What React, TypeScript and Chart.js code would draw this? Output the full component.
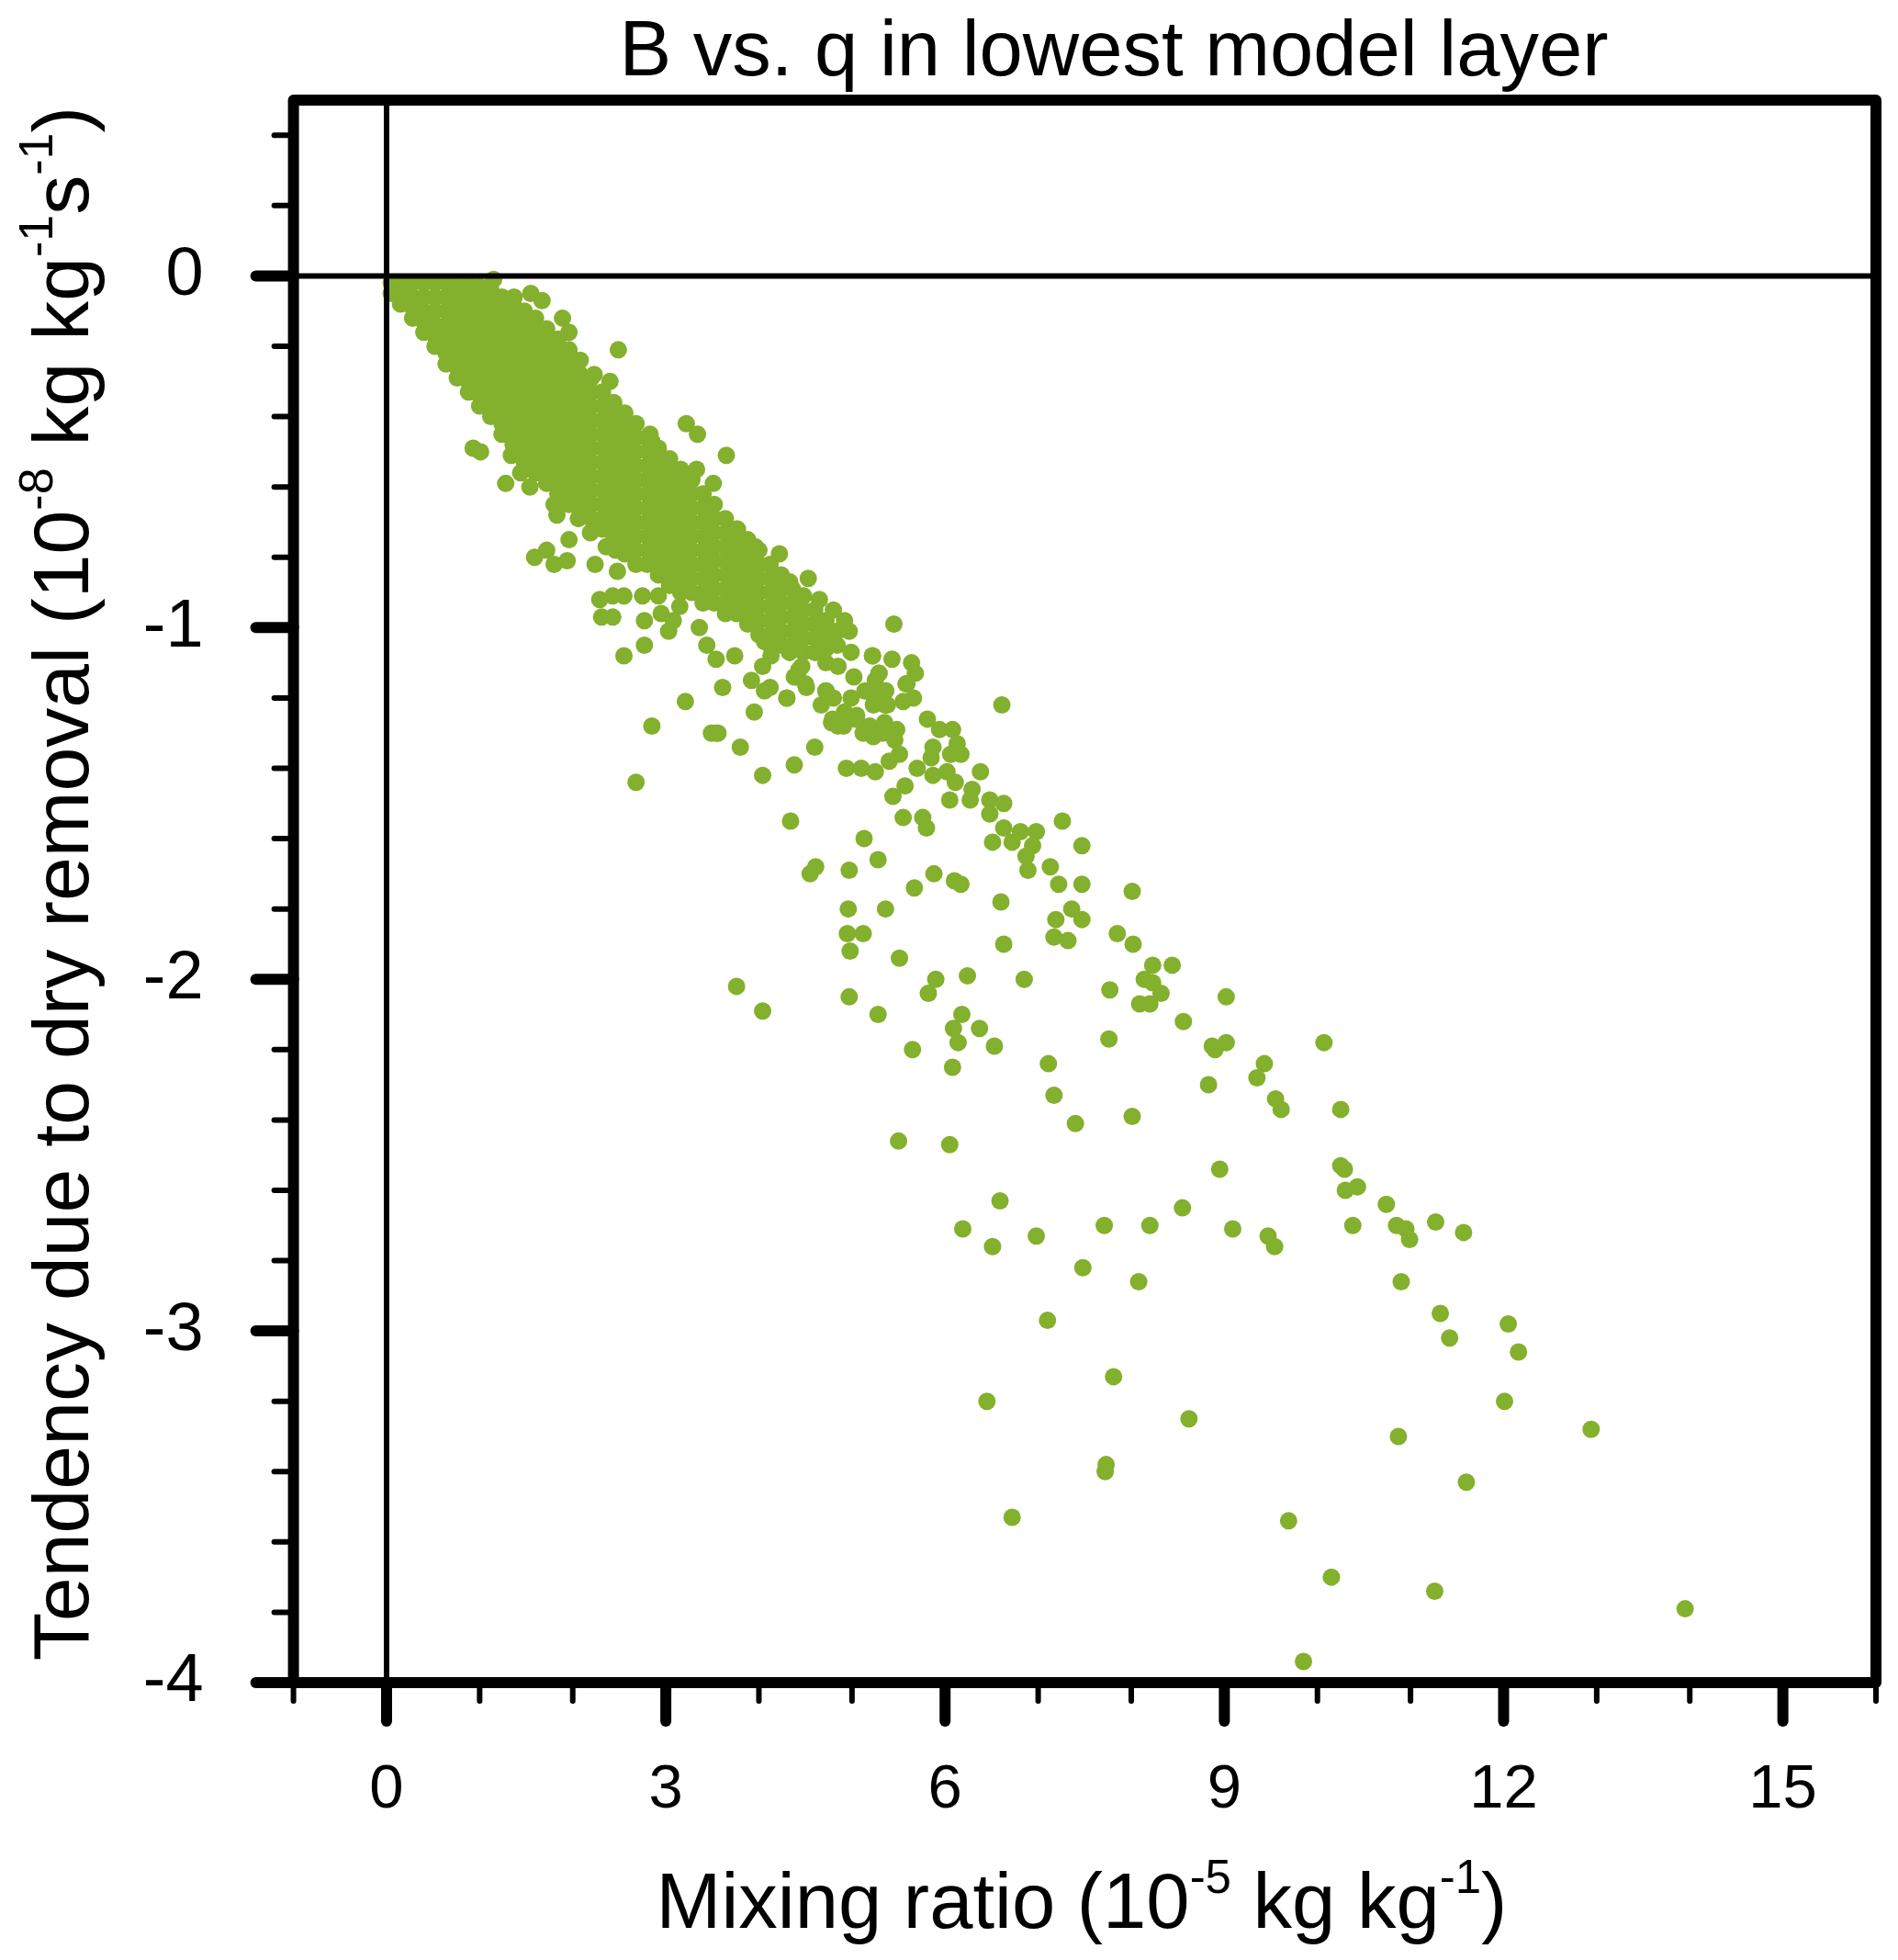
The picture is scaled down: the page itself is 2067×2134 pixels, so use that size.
import { useEffect, useRef } from "react"
import { Chart, registerables } from "chart.js"

Chart.register(...registerables)

const FONT = '"Liberation Sans", Arial, Helvetica, sans-serif'
const DOT_COLOR = "#83b02d"

// axis ranges and labelled ticks
const X_RANGE = [-1, 16]
const Y_RANGE = [-4, 0.5]
const xTickLabels = [0, 3, 6, 9, 12, 15]
const yTickLabels = [0, -1, -2, -3, -4]

const titleText = "B vs. q in lowest model layer"
const xTitle = [
  { t: "Mixing ratio (10" },
  { t: "-5", sup: true },
  { t: " kg kg" },
  { t: "-1", sup: true },
  { t: ")" },
]
const yTitle = [
  { t: "Tendency due to dry removal (10" },
  { t: "-8", sup: true },
  { t: " kg kg" },
  { t: "-1", sup: true },
  { t: "s" },
  { t: "-1", sup: true },
  { t: ")" },
]

// dense core of the cloud, read column by column: [q, [B values]]
const bandColumns: [number, number[]][] = [
  [0.05, [-0.02, -0.05]],
  [0.15, [-0.02, -0.05, -0.08]],
  [0.28, [-0.02, -0.06, -0.09, -0.12]],
  [0.4, [-0.02, -0.06, -0.1, -0.13, -0.16]],
  [0.52, [-0.02, -0.06, -0.1, -0.14, -0.17, -0.2]],
  [0.64, [-0.02, -0.06, -0.1, -0.14, -0.18, -0.22, -0.25]],
  [0.76, [-0.03, -0.07, -0.11, -0.15, -0.19, -0.23, -0.26, -0.29]],
  [0.88, [-0.02, -0.06, -0.1, -0.14, -0.18, -0.22, -0.26, -0.3, -0.33]],
  [1.0, [-0.03, -0.07, -0.11, -0.15, -0.19, -0.23, -0.27, -0.31, -0.34, -0.37]],
  [1.12, [-0.04, -0.08, -0.12, -0.16, -0.2, -0.24, -0.28, -0.32, -0.36, -0.4]],
  [1.24, [-0.06, -0.1, -0.14, -0.18, -0.22, -0.26, -0.3, -0.34, -0.38, -0.42, -0.45]],
  [1.36, [-0.08, -0.12, -0.16, -0.2, -0.24, -0.28, -0.32, -0.36, -0.4, -0.44, -0.48]],
  [1.48, [-0.1, -0.14, -0.18, -0.22, -0.26, -0.3, -0.34, -0.38, -0.42, -0.46, -0.5, -0.53]],
  [1.6, [-0.12, -0.16, -0.2, -0.24, -0.28, -0.32, -0.36, -0.4, -0.44, -0.48, -0.52, -0.56]],
  [1.72, [-0.15, -0.19, -0.23, -0.27, -0.31, -0.35, -0.39, -0.43, -0.47, -0.51, -0.55, -0.59]],
  [1.84, [-0.18, -0.22, -0.26, -0.3, -0.34, -0.38, -0.42, -0.46, -0.5, -0.54, -0.58, -0.62]],
  [1.96, [-0.21, -0.25, -0.29, -0.33, -0.37, -0.41, -0.45, -0.49, -0.53, -0.57, -0.61, -0.65]],
  [2.08, [-0.24, -0.28, -0.32, -0.36, -0.4, -0.44, -0.48, -0.52, -0.56, -0.6, -0.64, -0.67]],
  [2.2, [-0.29, -0.33, -0.37, -0.41, -0.45, -0.49, -0.53, -0.57, -0.61, -0.65, -0.69]],
  [2.32, [-0.33, -0.37, -0.41, -0.45, -0.49, -0.53, -0.57, -0.61, -0.65, -0.69, -0.72]],
  [2.44, [-0.36, -0.4, -0.44, -0.48, -0.52, -0.56, -0.6, -0.64, -0.68, -0.72, -0.75]],
  [2.56, [-0.39, -0.43, -0.47, -0.51, -0.55, -0.59, -0.63, -0.67, -0.71, -0.75, -0.79]],
  [2.68, [-0.42, -0.46, -0.5, -0.54, -0.58, -0.62, -0.66, -0.7, -0.74, -0.78, -0.82]],
  [2.8, [-0.46, -0.5, -0.54, -0.58, -0.62, -0.66, -0.7, -0.74, -0.78, -0.82]],
  [2.92, [-0.49, -0.53, -0.57, -0.61, -0.65, -0.69, -0.73, -0.77, -0.81, -0.85]],
  [3.04, [-0.52, -0.56, -0.6, -0.64, -0.68, -0.72, -0.76, -0.8, -0.84, -0.88]],
  [3.16, [-0.55, -0.59, -0.63, -0.67, -0.71, -0.75, -0.79, -0.83, -0.87, -0.9]],
  [3.28, [-0.58, -0.62, -0.66, -0.7, -0.74, -0.78, -0.82, -0.86, -0.9]],
  [3.4, [-0.62, -0.66, -0.7, -0.74, -0.78, -0.82, -0.86, -0.9, -0.93]],
  [3.52, [-0.65, -0.69, -0.73, -0.77, -0.81, -0.85, -0.89, -0.93]],
  [3.64, [-0.69, -0.73, -0.77, -0.81, -0.85, -0.89, -0.93, -0.96]],
  [3.76, [-0.72, -0.76, -0.8, -0.84, -0.88, -0.92, -0.96]],
  [3.88, [-0.75, -0.79, -0.83, -0.87, -0.91, -0.95, -0.99]],
  [4.0, [-0.78, -0.82, -0.86, -0.9, -0.94, -0.98, -1.02]],
  [4.12, [-0.82, -0.86, -0.9, -0.94, -0.98, -1.02, -1.05]],
  [4.24, [-0.85, -0.89, -0.93, -0.97, -1.01, -1.05]],
  [4.36, [-0.89, -0.93, -0.97, -1.01, -1.05]],
  [4.48, [-0.91, -0.95, -0.99, -1.03, -1.07]],
  [4.6, [-0.95, -0.99, -1.03, -1.07]],
  [4.72, [-0.98, -1.02, -1.06]],
  [4.84, [-1.01, -1.05]],
]

// loose points along the edges of the dense cloud
const edgePoints: [number, number][] = [
  [1.15, -0.01], [1.37, -0.06], [1.55, -0.05], [1.67, -0.07], [1.89, -0.12], [1.96, -0.16],
  [2.49, -0.21], [2.23, -0.28], [2.4, -0.3], [3.22, -0.42], [3.34, -0.45], [3.65, -0.51],
  [4.53, -0.86], [4.22, -0.79], [0.93, -0.49], [1.01, -0.5], [1.28, -0.59], [1.54, -0.6],
  [1.34, -0.51], [1.44, -0.56], [1.64, -0.55], [1.8, -0.58], [1.83, -0.68], [1.8, -0.65],
  [1.59, -0.8], [1.72, -0.78], [1.8, -0.82], [1.94, -0.81], [1.96, -0.75], [2.24, -0.82],
  [2.48, -0.84], [2.29, -0.92], [2.43, -0.97], [2.31, -0.97], [2.06, -0.69], [2.19, -0.73],
  [2.36, -0.77], [2.46, -0.78], [3.33, -0.55], [3.51, -0.59], [2.83, -0.45], [2.85, -0.47],
  [2.52, -0.39], [3.44, -0.66], [3.77, -0.72], [3.96, -0.77], [4.33, -0.87], [4.65, -0.92],
  [4.8, -0.95], [4.92, -0.98], [4.97, -1.01], [5.45, -0.99], [5.22, -1.08], [5.43, -1.09],
  [5.64, -1.1], [5.68, -1.13], [5.58, -1.16], [5.66, -1.2], [5.29, -1.13], [5.36, -1.18],
  [5.22, -1.19], [5.36, -1.22], [2.55, -1.08], [2.77, -1.05], [3.21, -1.21], [2.85, -1.28],
  [3.03, -1.01], [3.36, -1.0], [3.44, -1.05], [3.54, -1.09], [3.74, -1.08], [3.61, -1.17],
  [3.95, -1.24], [3.92, -1.15], [4.06, -1.18], [4.3, -1.2], [3.54, -1.3], [2.55, -0.91],
  [2.75, -0.91], [2.92, -0.91], [3.15, -0.94], [2.95, -0.96], [3.08, -0.98], [4.06, -1.04],
  [4.13, -1.08], [4.33, -1.07], [4.4, -1.14], [4.5, -1.16], [4.72, -1.18], [4.79, -1.26],
  [4.92, -1.24], [5.05, -1.25], [5.19, -1.28], [5.35, -1.27], [5.48, -1.29], [5.38, -1.22],
  [5.19, -1.18], [4.12, -1.17], [4.43, -1.12], [4.67, -1.22], [4.91, -1.28], [4.04, -1.11],
  [2.43, -0.91], [2.77, -0.98], [4.33, -1.07], [4.46, -1.11], [4.38, -1.14], [4.51, -1.17],
  [4.61, -1.07], [4.72, -1.1], [4.85, -1.11], [4.99, -1.07], [4.8, -1.2], [4.72, -1.18],
  [5.02, -1.14], [4.99, -1.2], [5.14, -1.18], [5.25, -1.15], [5.29, -1.13], [5.36, -1.18],
  [5.36, -1.22], [5.23, -1.22], [5.22, -1.08], [5.59, -1.16], [5.55, -1.21], [4.3, -1.2],
]

// scattered points well away from the cloud
const scatterPoints: [number, number][] = [
  [3.76, -2.02], [4.04, -2.09], [4.04, -1.42], [3.8, -1.34], [3.49, -1.3], [3.56, -1.3],
  [2.68, -1.44], [6.61, -1.22], [5.81, -1.26], [5.94, -1.29], [6.08, -1.29],
  [4.6, -1.34], [4.38, -1.39], [4.94, -1.4], [5.1, -1.4], [5.25, -1.41], [5.4, -1.38],
  [5.51, -1.36], [4.78, -1.27], [4.85, -1.28], [5.04, -1.26], [5.12, -1.3], [5.23, -1.31],
  [5.46, -1.32], [5.33, -1.3], [6.13, -1.33], [6.06, -1.36], [6.17, -1.36], [5.87, -1.34],
  [5.85, -1.37], [5.7, -1.4], [5.87, -1.42], [6.02, -1.41], [6.11, -1.44], [6.38, -1.41],
  [6.29, -1.46], [6.27, -1.49], [6.48, -1.49], [6.63, -1.5], [6.48, -1.53], [5.57, -1.45],
  [5.44, -1.48], [6.05, -1.49], [5.55, -1.54], [5.76, -1.54], [5.8, -1.57], [4.34, -1.55],
  [5.13, -1.6], [4.61, -1.68], [4.55, -1.7], [4.97, -1.69], [5.28, -1.66], [6.51, -1.61],
  [6.63, -1.57], [6.72, -1.61], [6.81, -1.58], [6.98, -1.58], [6.94, -1.62], [6.87, -1.65],
  [6.89, -1.69], [7.13, -1.68], [7.22, -1.73], [7.47, -1.73], [7.26, -1.55], [7.47, -1.62],
  [5.88, -1.7], [6.1, -1.72], [6.17, -1.73], [5.67, -1.74], [4.96, -1.8], [5.36, -1.8],
  [4.95, -1.87], [5.12, -1.87], [4.98, -1.92], [6.6, -1.78], [7.19, -1.83], [7.36, -1.8],
  [7.47, -1.83], [7.17, -1.88], [7.32, -1.89], [8.01, -1.75], [6.63, -1.9], [7.85, -1.87],
  [8.02, -1.9], [5.51, -1.94], [5.9, -2.0], [5.82, -2.04], [6.24, -1.99], [6.85, -2.0],
  [4.97, -2.05], [5.28, -2.1], [6.18, -2.1], [6.09, -2.14], [6.37, -2.14], [6.14, -2.18],
  [6.53, -2.19], [5.65, -2.2], [6.08, -2.25], [7.11, -2.24], [7.17, -2.33], [7.77, -2.03],
  [7.76, -2.17], [8.23, -1.96], [8.14, -2.0], [8.23, -2.01], [8.32, -2.04], [8.09, -2.07],
  [8.2, -2.07], [8.44, -1.96], [8.56, -2.12], [9.02, -2.05], [8.87, -2.19], [9.02, -2.18],
  [8.9, -2.2], [8.83, -2.3], [9.43, -2.24], [9.35, -2.28], [10.07, -2.18], [9.55, -2.34],
  [9.61, -2.37], [10.25, -2.37], [7.4, -2.41], [8.01, -2.39], [5.5, -2.46], [6.05, -2.47],
  [8.95, -2.54], [10.25, -2.53], [10.29, -2.54], [10.3, -2.6], [10.43, -2.59], [10.74, -2.64],
  [10.38, -2.7], [10.85, -2.7], [10.95, -2.71], [10.99, -2.74], [11.27, -2.69], [11.57, -2.72],
  [6.59, -2.63], [6.19, -2.71], [6.51, -2.76], [6.98, -2.73], [7.71, -2.7], [8.2, -2.7],
  [8.55, -2.65], [9.09, -2.71], [9.47, -2.73], [9.54, -2.76], [7.48, -2.82], [8.08, -2.86],
  [10.9, -2.86], [7.1, -2.97], [11.32, -2.95], [11.42, -3.02], [12.05, -2.98], [12.16, -3.06],
  [7.81, -3.13], [6.45, -3.2], [12.01, -3.2], [8.62, -3.25], [10.87, -3.3], [7.73, -3.38],
  [7.72, -3.4], [12.94, -3.28], [11.6, -3.43], [6.72, -3.53], [9.69, -3.54], [10.15, -3.7],
  [11.26, -3.74], [13.95, -3.79], [9.85, -3.94],
]

type Seg = { t: string; sup?: boolean }

function drawRich(ctx: CanvasRenderingContext2D, segs: Seg[], size: number, cx: number, baseline: number) {
  const fontFor = (s: Seg) => `${s.sup ? Math.round(size * 0.6) : size}px ${FONT}`
  let total = 0
  segs.forEach((s) => {
    ctx.font = fontFor(s)
    total += ctx.measureText(s.t).width
  })
  let x = cx - total / 2
  ctx.textAlign = "left"
  ctx.textBaseline = "alphabetic"
  segs.forEach((s) => {
    ctx.font = fontFor(s)
    ctx.fillText(s.t, x, s.sup ? baseline - size * 0.45 : baseline)
    x += ctx.measureText(s.t).width
  })
}

const isWhole = (v: number) => Math.abs(v - Math.round(v)) < 1e-6

const framePlugin = {
  id: "frameAndTitles",
  afterDatasetsDraw(chart: Chart) {
    const { ctx, chartArea: a } = chart
    const xs = chart.scales.x
    const ys = chart.scales.y
    ctx.save()
    ctx.strokeStyle = "#000"

    // zero lines
    ctx.lineWidth = 6
    ctx.beginPath()
    const x0 = xs.getPixelForValue(0)
    const y0 = ys.getPixelForValue(0)
    ctx.moveTo(x0, a.top)
    ctx.lineTo(x0, a.bottom)
    ctx.moveTo(a.left, y0)
    ctx.lineTo(a.right, y0)
    ctx.stroke()

    // tick marks (outside)
    ctx.lineCap = "round"
    xs.ticks.forEach((t) => {
      const major = xTickLabels.includes(t.value)
      const px = xs.getPixelForValue(t.value)
      ctx.lineWidth = major ? 12 : 6
      ctx.beginPath()
      ctx.moveTo(px, a.bottom)
      ctx.lineTo(px, a.bottom + (major ? 42 : 20))
      ctx.stroke()
    })
    ys.ticks.forEach((t) => {
      const major = isWhole(t.value)
      const py = ys.getPixelForValue(t.value)
      ctx.lineWidth = major ? 12 : 6
      ctx.beginPath()
      ctx.moveTo(a.left, py)
      ctx.lineTo(a.left - (major ? 41 : 21), py)
      ctx.stroke()
    })

    // frame
    ctx.lineCap = "butt"
    ctx.lineJoin = "round"
    ctx.lineWidth = 12
    ctx.strokeRect(a.left, a.top, a.right - a.left, a.bottom - a.top)

    // titles
    ctx.fillStyle = "#000"
    ctx.font = `85px ${FONT}`
    ctx.textAlign = "center"
    ctx.textBaseline = "alphabetic"
    ctx.fillText(titleText, 1213, 82)

    drawRich(ctx, xTitle, 85, 1178, 2099)

    ctx.translate(96, 962)
    ctx.rotate(-Math.PI / 2)
    drawRich(ctx, yTitle, 86, 0, 0)
    ctx.restore()
  },
}

export default function App() {
  const chartRef = useRef<HTMLCanvasElement>(null)
  const chartInstance = useRef<Chart | null>(null)

  useEffect(() => {
    if (!chartRef.current) return
    if (chartInstance.current) {
      chartInstance.current.destroy()
    }
    const ctx = chartRef.current.getContext("2d")
    if (!ctx) return

    const points = [
      ...bandColumns.flatMap(([x, ys]) => ys.map((y) => ({ x, y }))),
      ...edgePoints.map(([x, y]) => ({ x, y })),
      ...scatterPoints.map(([x, y]) => ({ x, y })),
    ]

    chartInstance.current = new Chart(ctx, {
      type: "scatter",
      data: {
        datasets: [
          {
            data: points,
            pointRadius: 9.5,
            pointHoverRadius: 9.5,
            pointBackgroundColor: DOT_COLOR,
            pointBorderWidth: 0,
            borderColor: DOT_COLOR,
          },
        ],
      },
      options: {
        responsive: true,
        maintainAspectRatio: false,
        animation: false,
        devicePixelRatio: 1,
        layout: { padding: { left: 0, top: 109, right: 24, bottom: 0 } },
        plugins: {
          legend: { display: false },
          tooltip: { enabled: false },
          title: { display: false },
        },
        scales: {
          x: {
            type: "linear",
            min: X_RANGE[0],
            max: X_RANGE[1],
            border: { display: false },
            grid: { display: false, drawTicks: false, tickLength: 0 },
            afterFit: (scale) => {
              scale.height = 302
              scale.paddingLeft = 0
              scale.paddingRight = 0
            },
            ticks: {
              stepSize: 1,
              autoSkip: false,
              maxRotation: 0,
              padding: 77,
              color: "#000",
              font: { family: FONT, size: 67 },
              callback: (v) => (xTickLabels.includes(Number(v)) ? String(v) : ""),
            },
          },
          y: {
            type: "linear",
            min: Y_RANGE[0],
            max: Y_RANGE[1],
            border: { display: false },
            grid: { display: false, drawTicks: false, tickLength: 0 },
            afterFit: (scale) => {
              scale.width = 319.6
              scale.paddingTop = 0
              scale.paddingBottom = 0
            },
            ticks: {
              stepSize: 0.2,
              includeBounds: false,
              autoSkip: false,
              padding: 98,
              color: "#000",
              font: { family: FONT, size: 74 },
              callback: (v) => {
                const n = Number(v)
                return isWhole(n) && yTickLabels.includes(Math.round(n)) ? String(Math.round(n)) : ""
              },
            },
          },
        },
      },
      plugins: [framePlugin],
    })

    return () => {
      if (chartInstance.current) {
        chartInstance.current.destroy()
        chartInstance.current = null
      }
    }
  }, [])

  return (
    <div style={{ position: "absolute", left: 0, top: 0, width: 2067, height: 2134, background: "#fff" }}>
      <canvas ref={chartRef} />
    </div>
  )
}
